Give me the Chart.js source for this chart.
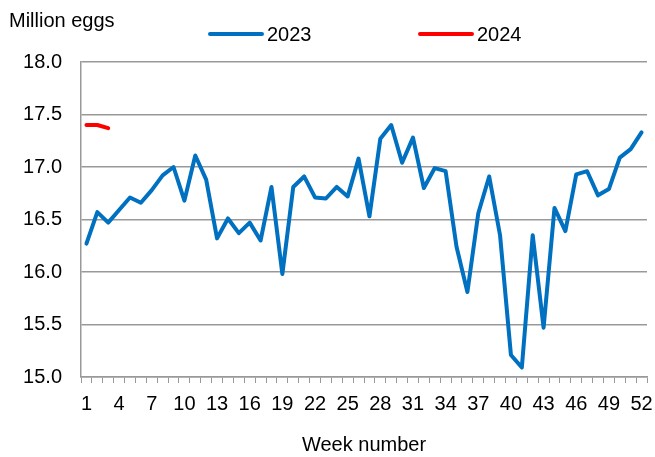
<!DOCTYPE html>
<html>
<head>
<meta charset="utf-8">
<title>Egg production</title>
<script src="https://cdn.jsdelivr.net/npm/chart.js@4.4.1/dist/chart.umd.min.js"></script>
<style>
  html, body { margin: 0; padding: 0; background: #fff; }
  canvas { display: block; }
</style>
</head>
<body>
<canvas id="eggchart" width="655" height="457"></canvas>
<script>
const weeks = ["1","2","3","4","5","6","7","8","9","10","11","12","13","14","15","16","17","18","19","20",
  "21","22","23","24","25","26","27","28","29","30","31","32","33","34","35","36","37","38","39","40",
  "41","42","43","44","45","46","47","48","49","50","51","52"];

const eggs2023 = [16.27, 16.57, 16.47, 16.59, 16.71, 16.66, 16.78, 16.92, 17.00, 16.68,
  17.11, 16.88, 16.32, 16.51, 16.37, 16.47, 16.30, 16.81, 15.98, 16.81,
  16.91, 16.71, 16.70, 16.81, 16.72, 17.08, 16.53, 17.27, 17.40, 17.04,
  17.28, 16.80, 16.99, 16.96, 16.24, 15.81, 16.56, 16.91, 16.35, 15.21,
  15.09, 16.35, 15.47, 16.61, 16.39, 16.93, 16.96, 16.73, 16.79, 17.09,
  17.17, 17.33];

const eggs2024 = [17.40, 17.40, 17.37];

const yTicks = [15.0, 15.5, 16.0, 16.5, 17.0, 17.5, 18.0];

Chart.defaults.font.family = "Arial, 'Liberation Sans', sans-serif";
Chart.defaults.font.size = 20;
Chart.defaults.color = "#000";

// unit label and legend drawn at fixed spots like the original
const extraText = {
  id: "extraText",
  afterDraw(chart) {
    const ctx = chart.ctx;
    ctx.save();
    ctx.font = "20px Arial, 'Liberation Sans', sans-serif";
    ctx.fillStyle = "#000";
    ctx.textBaseline = "middle";
    ctx.textAlign = "left";
    ctx.fillText("Million eggs", 9, 21);

    const starts = [209, 419];
    chart.data.datasets.forEach((ds, i) => {
      const x = starts[i];
      ctx.strokeStyle = ds.borderColor;
      ctx.lineWidth = 4;
      ctx.lineCap = "round";
      ctx.beginPath();
      ctx.moveTo(x + 1, 34);
      ctx.lineTo(x + 53, 34);
      ctx.stroke();
      ctx.fillText(ds.label, x + 58, 35);
    });
    ctx.restore();
  }
};

new Chart(document.getElementById("eggchart"), {
  type: "line",
  data: {
    labels: weeks,
    datasets: [
      {
        label: "2023",
        data: eggs2023,
        borderColor: "#0070c0",
        backgroundColor: "#0070c0",
        borderWidth: 4,
        borderJoinStyle: "round",
        borderCapStyle: "round",
        pointRadius: 0,
        tension: 0
      },
      {
        label: "2024",
        data: eggs2024,
        borderColor: "#ff0000",
        backgroundColor: "#ff0000",
        borderWidth: 4,
        borderJoinStyle: "round",
        borderCapStyle: "round",
        pointRadius: 0,
        tension: 0
      }
    ]
  },
  options: {
    responsive: false,
    animation: false,
    layout: { padding: { top: 62, right: 8, left: 0, bottom: 0 } },
    plugins: {
      legend: { display: false },
      tooltip: { enabled: false }
    },
    scales: {
      x: {
        offset: true,
        afterFit: (s) => {
          s.height = 80;
          s.paddingLeft = 0;
          s.paddingRight = 0;
        },
        grid: {
          offset: true,
          drawOnChartArea: false,
          drawTicks: true,
          tickLength: 6,
          color: "#999",
          lineWidth: 1
        },
        border: { display: true, color: "#999", width: 1.5 },
        ticks: {
          autoSkip: false,
          maxRotation: 0,
          padding: 9,
          callback: function (val, idx) {
            return idx % 3 === 0 ? weeks[idx] : "";
          }
        },
        title: {
          display: true,
          text: "Week number",
          padding: { top: 0, bottom: 0 }
        }
      },
      y: {
        min: yTicks[0],
        max: yTicks[yTicks.length - 1],
        afterFit: (s) => { s.width = 81; },
        afterBuildTicks: (s) => { s.ticks = yTicks.map(v => ({ value: v })); },
        grid: {
          drawTicks: false,
          color: "#999",
          lineWidth: 1.5
        },
        border: { display: true, color: "#999", width: 1.5 },
        ticks: {
          padding: 19,
          callback: (v) => v.toFixed(1)
        }
      }
    }
  },
  plugins: [extraText]
});
</script>
</body>
</html>
